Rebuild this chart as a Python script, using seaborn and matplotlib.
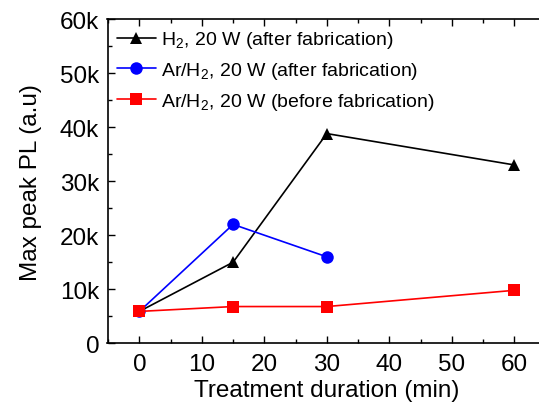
import matplotlib
matplotlib.use("Agg")
import matplotlib.pyplot as plt
from matplotlib.ticker import MultipleLocator, FuncFormatter
import seaborn as sns
import pandas as pd

# Treatment duration (min) and max peak PL for each sample set
h2_after_x = [0, 15, 30, 60]
h2_after_y = [5900, 15000, 38800, 33000]
arh2_after_x = [0, 15, 30]
arh2_after_y = [5900, 22000, 16000]
arh2_before_x = [0, 15, 30, 60]
arh2_before_y = [5900, 6800, 6800, 9800]

labels = [
    r"H$_\mathregular{2}$, 20 W (after fabrication)",
    r"Ar/H$_\mathregular{2}$, 20 W (after fabrication)",
    r"Ar/H$_\mathregular{2}$, 20 W (before fabrication)",
]
colors = ["black", "#0000ff", "#ff0000"]
markers = ["^", "o", "s"]

rows = []
for lab, xs, ys in zip(labels,
                       [h2_after_x, arh2_after_x, arh2_before_x],
                       [h2_after_y, arh2_after_y, arh2_before_y]):
    for x, y in zip(xs, ys):
        rows.append({"duration": x, "pl": y, "series": lab})
df = pd.DataFrame(rows)

sns.set_theme(style="white")
plt.rcParams["font.family"] = ["Liberation Sans", "DejaVu Sans"]
plt.rcParams["mathtext.fontset"] = "custom"
plt.rcParams["mathtext.rm"] = "Liberation Sans"
plt.rcParams["text.color"] = "black"
plt.rcParams["axes.labelcolor"] = "black"
plt.rcParams["xtick.color"] = "black"
plt.rcParams["ytick.color"] = "black"

fig = plt.figure(figsize=(5.39, 4.10), dpi=100)
ax = fig.add_axes([107.5 / 539, 1 - 344.3 / 410, (545.5 - 107.5) / 539, (344.3 - 20) / 410])

sns.lineplot(data=df, x="duration", y="pl", hue="series", style="series",
             hue_order=labels, style_order=labels,
             palette=dict(zip(labels, colors)), markers=dict(zip(labels, markers)),
             dashes=False, markersize=9, markeredgewidth=0, linewidth=1.2,
             ax=ax)

ax.set_xlim(-5.1, 65)
ax.set_ylim(0, 60000)
ax.xaxis.set_major_locator(MultipleLocator(10))
ax.xaxis.set_minor_locator(MultipleLocator(5))
ax.yaxis.set_major_locator(MultipleLocator(10000))
ax.yaxis.set_minor_locator(MultipleLocator(5000))
ax.yaxis.set_major_formatter(FuncFormatter(lambda v, p: "0" if v == 0 else f"{int(v/1000)}k"))

ax.tick_params(which="both", direction="in", bottom=True, left=True, top=True, right=True,
               color="black")
ax.tick_params(which="major", length=5, width=1, labelsize=17.5)
ax.tick_params(which="minor", length=3, width=1)
ax.tick_params(axis="x", which="major", pad=7)
ax.tick_params(axis="y", which="major", pad=6)
for s in ax.spines.values():
    s.set_color("black")
    s.set_linewidth(1.2)

ax.set_xlabel("Treatment duration (min)", fontsize=17.5, labelpad=3)
ax.set_ylabel("Max peak PL (a.u)", fontsize=17.5, labelpad=13)

handles, labs = ax.get_legend_handles_labels()
ax.legend(handles, labs, loc="upper left", bbox_to_anchor=(-0.01, 1.01), frameon=False,
          fontsize=14, handlelength=2.0, handletextpad=0.3, labelspacing=0.5,
          borderaxespad=0.3)

fig.savefig("out.png", dpi=100)
